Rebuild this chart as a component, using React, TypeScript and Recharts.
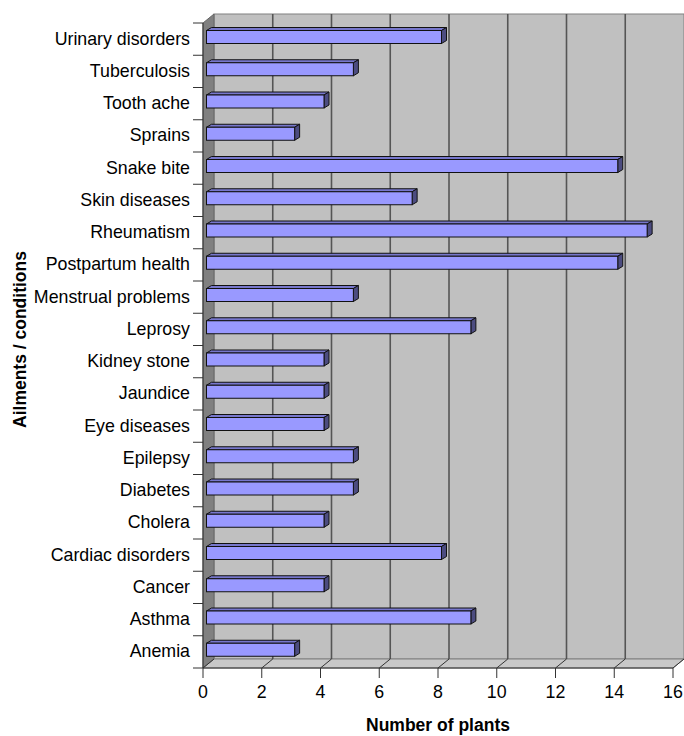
import { BarChart, Bar, XAxis, YAxis, ReferenceArea, ReferenceLine } from 'recharts'

// top to bottom, as in the picture
const AILMENTS = [
  'Urinary disorders', 'Tuberculosis', 'Tooth ache', 'Sprains', 'Snake bite',
  'Skin diseases', 'Rheumatism', 'Postpartum health', 'Menstrual problems', 'Leprosy',
  'Kidney stone', 'Jaundice', 'Eye diseases', 'Epilepsy', 'Diabetes',
  'Cholera', 'Cardiac disorders', 'Cancer', 'Asthma', 'Anemia',
]
const PLANTS = [8, 5, 4, 3, 14, 7, 15, 14, 5, 9, 4, 4, 4, 5, 5, 4, 8, 4, 9, 3]
const X_TICKS = [0, 2, 4, 6, 8, 10, 12, 14, 16]
const GRID_TICKS = [2, 4, 6, 8, 10, 12, 14]

const data = AILMENTS.map((name, i) => ({ name, plants: PLANTS[i] }))

const FONT = '"Liberation Sans", Arial, sans-serif'
// wall depth (3D offset of the back wall)
const DX = 11
const DY = -9

function Walls(props: any) {
  const { x, y, width: w, height: h } = props
  return (
    <g>
      {/* back wall */}
      <rect x={x + DX} y={y + DY} width={w} height={h} fill="#c0c0c0" stroke="#808080" strokeWidth={1} />
      {/* left side wall */}
      <polygon
        points={`${x},${y} ${x + DX},${y + DY} ${x + DX},${y + h + DY} ${x},${y + h}`}
        fill="#808080" stroke="#666" strokeWidth={1}
      />
      {/* floor */}
      <polygon
        points={`${x},${y + h} ${x + DX},${y + h + DY} ${x + w + DX},${y + h + DY} ${x + w},${y + h}`}
        fill="#c8c8c8" stroke="#808080" strokeWidth={1}
      />
    </g>
  )
}

function GridLine(props: any) {
  const { x1, y1, x2, y2 } = props
  return <line x1={x1 + DX} y1={y1 + DY} x2={x2 + DX} y2={y2 + DY} stroke="#555" strokeWidth={1.6} />
}

function Bar3D(props: any) {
  const { x, y, width, height } = props
  if (width == null || width <= 0) return null
  const fx = x + 3.5
  const fy = y - 2.5
  const dx = 5
  const dy = -3
  return (
    <g>
      <polygon
        points={`${fx},${fy} ${fx + dx},${fy + dy} ${fx + width + dx},${fy + dy} ${fx + width},${fy}`}
        fill="#7777cc" stroke="#111" strokeWidth={1}
      />
      <polygon
        points={`${fx + width},${fy} ${fx + width + dx},${fy + dy} ${fx + width + dx},${fy + height + dy} ${fx + width},${fy + height}`}
        fill="#4c4c80" stroke="#111" strokeWidth={1}
      />
      <rect x={fx} y={fy} width={width} height={height} fill="#9999ff" stroke="#111" strokeWidth={1} />
    </g>
  )
}

function YTick(props: any) {
  const { x, y, payload } = props
  const off = payload.offset ?? 16.125
  const last = payload.value === AILMENTS[AILMENTS.length - 1]
  return (
    <g>
      <line x1={x - 10} y1={y - off} x2={x} y2={y - off} stroke="#333" />
      {last && <line x1={x - 10} y1={y + off} x2={x} y2={y + off} stroke="#333" />}
      <text x={x - 13} y={y + 5.5} textAnchor="end" fontFamily={FONT} fontSize={17.8} fill="#000">
        {payload.value}
      </text>
    </g>
  )
}

function XTick(props: any) {
  const { x, y, payload } = props
  return (
    <g>
      <line x1={x} y1={y} x2={x + DX} y2={y + DY} stroke="#333" />
      <line x1={x} y1={y} x2={x} y2={y + 10} stroke="#333" />
      <text x={x} y={y + 30} textAnchor="middle" fontFamily={FONT} fontSize={17.8} fill="#000">
        {payload.value}
      </text>
    </g>
  )
}

function YTitle(props: any) {
  const vb = props.viewBox
  const cx = vb.x + 25.5
  const cy = vb.y + vb.height / 2 - 6
  return (
    <text x={cx} y={cy} transform={`rotate(-90, ${cx}, ${cy})`} textAnchor="middle"
      fontFamily={FONT} fontSize={17.5} fontWeight="bold" fill="#000">
      Ailments / conditions
    </text>
  )
}

function XTitle(props: any) {
  const vb = props.viewBox
  return (
    <text x={vb.x + vb.width / 2} y={vb.y + 63} textAnchor="middle"
      fontFamily={FONT} fontSize={17.5} fontWeight="bold" fill="#000">
      Number of plants
    </text>
  )
}

export default function App() {
  return (
    <div style={{ position: 'absolute', left: 0, top: 0, width: 684, height: 736, background: '#fff' }}>
      <BarChart
        width={684}
        height={736}
        data={data}
        layout="vertical"
        margin={{ top: 23, right: 11, left: 0, bottom: 0 }}
        barSize={13}
      >
        <ReferenceArea x1={0} x2={16} shape={Walls} ifOverflow="visible" zIndex={-200} />
        {GRID_TICKS.map(t => (
          <ReferenceLine key={t} x={t} shape={GridLine} ifOverflow="visible" zIndex={-150} />
        ))}
        <XAxis
          type="number"
          domain={[0, 16]}
          ticks={X_TICKS}
          height={68}
          tickSize={0}
          tickMargin={0}
          tickLine={false}
          tick={XTick}
          axisLine={{ stroke: '#333' }}
          label={<XTitle />}
          interval={0}
        />
        <YAxis
          type="category"
          dataKey="name"
          width={203}
          tickSize={0}
          tickMargin={0}
          tickLine={false}
          tick={YTick}
          axisLine={{ stroke: '#333' }}
          label={<YTitle />}
          interval={0}
        />
        <Bar dataKey="plants" shape={Bar3D} isAnimationActive={false} />
      </BarChart>
    </div>
  )
}
